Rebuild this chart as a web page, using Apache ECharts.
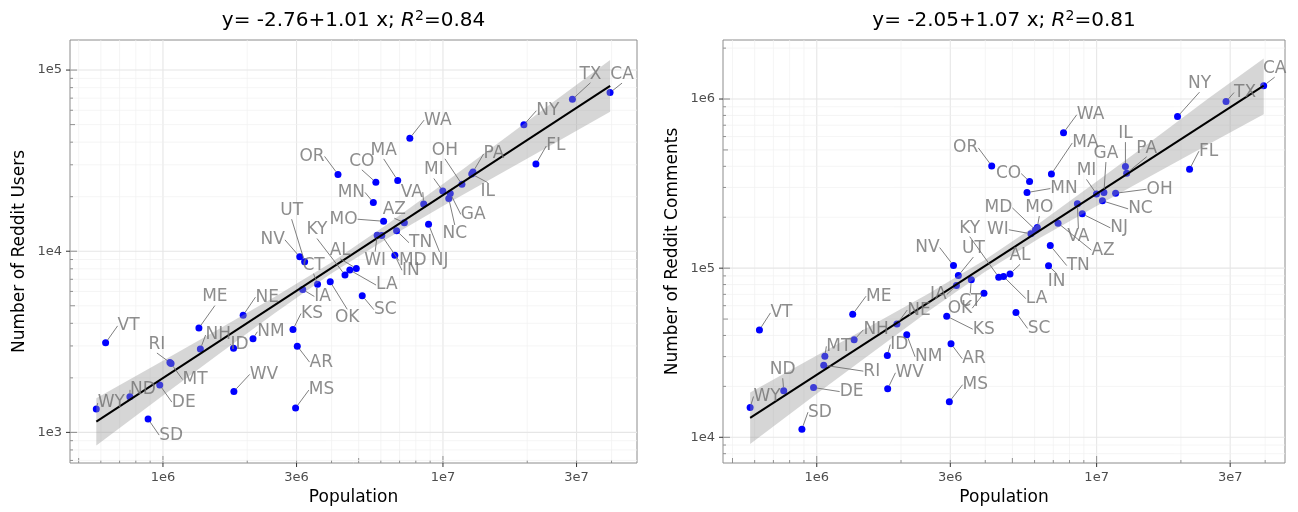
<!DOCTYPE html>
<html>
<head>
<meta charset="utf-8">
<script src="https://cdn.jsdelivr.net/npm/echarts@6/dist/echarts.min.js"></script>
<style>
  html, body { margin: 0; padding: 0; background: #fff; }
  #chart { width: 1298px; height: 512px; }
</style>
</head>
<body>
<div id="chart"></div>
<script>
// state data (48 contiguous states)
const states = ['WY', 'VT', 'ND', 'SD', 'DE', 'RI', 'MT', 'ME', 'NH', 'WV', 'ID', 'NE', 'NM', 'KS', 'MS', 'AR',
  'NV', 'IA', 'UT', 'CT', 'OK', 'OR', 'KY', 'LA', 'AL', 'SC', 'MN', 'CO', 'WI', 'MD', 'MO', 'IN',
  'TN', 'MA', 'AZ', 'WA', 'VA', 'NJ', 'MI', 'NC', 'GA', 'OH', 'IL', 'PA', 'NY', 'FL', 'TX', 'CA'];
// population in millions
const populationM = [0.578, 0.624, 0.762, 0.885, 0.974, 1.059, 1.069, 1.344, 1.360, 1.792, 1.787, 1.934, 2.097, 2.913, 2.976, 3.018,
  3.080, 3.155, 3.206, 3.565, 3.957, 4.218, 4.468, 4.649, 4.903, 5.149, 5.640, 5.759, 5.822, 6.046, 6.137, 6.732,
  6.829, 6.893, 7.279, 7.615, 8.536, 8.882, 9.987, 10.488, 10.617, 11.689, 12.672, 12.802, 19.454, 21.478, 28.996, 39.512];
const redditUsers = [1345, 3120, 1571, 1184, 1824, 2430, 2400, 3767, 2884, 1684, 2911, 4435, 3288, 3698, 1362, 2993,
  9310, 6150, 8750, 6580, 6780, 26550, 7390, 7870, 8040, 5680, 18600, 24000, 12270, 12200, 14640, 9500,
  12970, 24600, 14360, 42100, 18200, 14070, 21500, 19550, 20850, 23400, 26650, 27400, 49900, 30300, 69000, 75100];
const redditComments = [15000, 43150, 18840, 11170, 19680, 26700, 30100, 53400, 37700, 19350, 30430, 46700, 40350, 52000, 16230, 35700,
  103600, 78900, 90400, 85300, 71100, 402400, 88500, 89200, 92500, 54700, 279900, 325000, 159700, 168400, 173800, 103200,
  136000, 360500, 184500, 632000, 240000, 209400, 274800, 250000, 279900, 277300, 398500, 364000, 787000, 384600, 966000, 1199000];

// fitted line and confidence band, log10 units
const fitX = [5.762, 7.597];
const usersFit = [3.059, 4.913];
const commentsFit = [4.115, 6.079];
const bandX = [5.762, 6.0, 6.2, 6.4, 6.6, 6.8, 7.0, 7.2, 7.4, 7.597];
const usersBandHi = [3.188, 3.396, 3.571, 3.749, 3.936, 4.147, 4.371, 4.600, 4.830, 5.056];
const usersBandLo = [2.928, 3.204, 3.433, 3.659, 3.876, 4.069, 4.249, 4.424, 4.598, 4.770];
const commentsBandHi = [4.265, 4.483, 4.665, 4.850, 5.048, 5.271, 5.512, 5.757, 6.004, 6.240];
const commentsBandLo = [3.961, 4.257, 4.503, 4.746, 4.977, 5.181, 5.368, 5.551, 5.733, 5.910];

// axis breaks
const popBreaks = [1e6, 3e6, 1e7, 3e7];
const popBreakLabels = ['1e6', '3e6', '1e7', '3e7'];
const usersBreaks = [1e3, 1e4, 1e5];
const usersBreakLabels = ['1e3', '1e4', '1e5'];
const commentsBreaks = [1e4, 1e5, 1e6];
const commentsBreakLabels = ['1e4', '1e5', '1e6'];

const titleEq = ['y= -2.76+1.01 x; ', 'y= -2.05+1.07 x; '];
const titleR2 = ['0.84', '0.81'];

// label nudges (px) as placed by the repel layout
const usersLabelShift = {
  TX: [18, -25], CA: [12, -18], NY: [24, -14], FL: [20, -18], WA: [28, -18], OR: [-26, -18], CO: [-14, -21],
  MA: [-14, -30], MN: [-22, -10], VA: [-12, -12], OH: [-17, -34], MI: [-9, -21], PA: [21, -18], IL: [16, 17],
  GA: [23, 21], NC: [6, 35], AZ: [-10, -13], MO: [-40, -2], TN: [24, 12], NJ: [11, 36], MD: [31, 25],
  IN: [16, 15], WI: [-2, 25], KY: [-28, -45], UT: [-13, -51], NV: [-27, -17], AL: [-16, -18], CT: [-4, -19],
  LA: [37, 15], IA: [20, 7], KS: [19, -16], OK: [17, 36], SC: [23, 14], ME: [16, -31], NE: [24, -18],
  NH: [18, -14], ID: [6, -4], NM: [18, -7], AR: [24, 16], MS: [26, -18], WV: [30, -17], VT: [23, -17],
  RI: [-13, -18], MT: [24, 16], DE: [24, 17], ND: [13, -7], WY: [15, -6], SD: [23, 16]
};
const commentsLabelShift = {
  CA: [11, -17], TX: [19, -9], NY: [22, -33], FL: [19, -18], WA: [27, -18], MA: [34, -31], OR: [-26, -18],
  CO: [-21, -8], MN: [37, -4], IL: [0, -33], PA: [20, -25], GA: [2, -39], MI: [-10, -23], OH: [44, -4],
  NC: [38, 8], NJ: [37, 14], VA: [1, 33], AZ: [45, 27], MO: [2, -20], MD: [-37, -22], WI: [-33, -4],
  KY: [-29, -49], TN: [28, 20], IN: [8, 16], AL: [10, -18], LA: [33, 22], SC: [23, 16], UT: [15, -27],
  NV: [-26, -18], IA: [-18, 9], CT: [-1, 22], OK: [-24, 15], KS: [37, 13], NE: [22, -14], NM: [22, 22],
  AR: [23, 15], MS: [26, -17], ME: [26, -18], NH: [22, -10], ID: [12, -11], WV: [22, -16], MT: [14, -10],
  RI: [48, 6], DE: [38, 4], ND: [-1, -21], WY: [17, -11], VT: [22, -17], SD: [18, -17]
};

const FONT = 'DejaVu Sans';
const LABEL_GREY = '#707070';

const panels = [
  {
    grid: { left: 70, top: 40, width: 567, height: 423 },
    xMin: 5.668, xMax: 7.693, yMin: 2.831, yMax: 5.166,
    yName: 'Number of Reddit Users', yValues: redditUsers,
    yBreaks: usersBreaks, yBreakLabels: usersBreakLabels,
    fit: usersFit, bandHi: usersBandHi, bandLo: usersBandLo, shift: usersLabelShift
  },
  {
    grid: { left: 723, top: 40, width: 562, height: 423 },
    xMin: 5.665, xMax: 7.673, yMin: 3.848, yMax: 6.349,
    yName: 'Number of Reddit Comments', yValues: redditComments,
    yBreaks: commentsBreaks, yBreakLabels: commentsBreakLabels,
    fit: commentsFit, bandHi: commentsBandHi, bandLo: commentsBandLo, shift: commentsLabelShift
  }
];

function logOf(arr) {
  return arr.map((v) => Math.log10(v));
}

function labelFor(breaksLog, labels) {
  return function (v) {
    const i = breaksLog.findIndex((b) => Math.abs(b - v) < 1e-6);
    return i >= 0 ? labels[i] : '';
  };
}

// grid lines + log ticks at k * 10^n
function logLines(lo, hi, breaks) {
  const out = [];
  for (let d = Math.floor(lo); d <= Math.ceil(hi); d++) {
    for (let k = 1; k <= 9; k++) {
      const v = Math.log10(k * Math.pow(10, d));
      if (v < lo || v > hi) continue;
      const major = breaks.some((b) => Math.abs(Math.log10(b) - v) < 1e-9) ? 1 : 0;
      out.push([v, major, k === 1 ? 2 : k === 5 ? 1 : 0]);
    }
  }
  return out;
}

const TICK_LEN = [3, 5, 7];

function gridLineStyle(major) {
  return major
    ? { stroke: '#e6e6e6', lineWidth: 1.1 }
    : { stroke: '#f1f1f1', lineWidth: 0.7 };
}

const grids = [], xAxes = [], yAxes = [], series = [], titles = [];

panels.forEach((p, i) => {
  const xBreaksLog = logOf(popBreaks);
  const yBreaksLog = logOf(p.yBreaks);
  grids.push(Object.assign({ show: true, borderColor: '#8c8c8c', borderWidth: 1, containLabel: false }, p.grid));

  xAxes.push({
    gridIndex: i, type: 'value', min: p.xMin, max: p.xMax,
    axisLine: { show: false }, splitLine: { show: false }, axisTick: { show: false },
    axisLabel: { customValues: xBreaksLog, formatter: labelFor(xBreaksLog, popBreakLabels),
      margin: 8, color: '#4d4d4d', fontSize: 13, fontFamily: FONT },
    name: 'Population', nameLocation: 'middle', nameGap: 26,
    nameTextStyle: { fontSize: 17, color: '#000', fontFamily: FONT }
  });
  yAxes.push({
    gridIndex: i, type: 'value', min: p.yMin, max: p.yMax,
    axisLine: { show: false }, splitLine: { show: false }, axisTick: { show: false },
    axisLabel: { customValues: yBreaksLog, formatter: labelFor(yBreaksLog, p.yBreakLabels),
      margin: 8, color: '#4d4d4d', fontSize: 13, fontFamily: FONT },
    name: p.yName, nameLocation: 'middle', nameGap: 42,
    nameTextStyle: { fontSize: 17, color: '#000', fontFamily: FONT }
  });

  // vertical grid lines, inner log ticks, outer break ticks
  series.push({
    type: 'custom', xAxisIndex: i, yAxisIndex: i, silent: true, z: 0,
    data: logLines(p.xMin, p.xMax, popBreaks),
    renderItem: function (params, api) {
      const cs = params.coordSys;
      const x = api.coord([api.value(0), p.yMin])[0];
      const bottom = cs.y + cs.height;
      const major = api.value(1);
      const kids = [
        { type: 'line', shape: { x1: x, y1: cs.y, x2: x, y2: bottom }, style: gridLineStyle(major) },
        { type: 'line', shape: { x1: x, y1: bottom, x2: x, y2: bottom - TICK_LEN[api.value(2)] },
          style: { stroke: '#666', lineWidth: 0.7 } }
      ];
      if (major) {
        kids.push({ type: 'line', shape: { x1: x, y1: bottom, x2: x, y2: bottom + 4 },
          style: { stroke: '#333', lineWidth: 1 } });
      }
      return { type: 'group', children: kids };
    }
  });
  // horizontal grid lines, inner log ticks, outer break ticks
  series.push({
    type: 'custom', xAxisIndex: i, yAxisIndex: i, silent: true, z: 0,
    data: logLines(p.yMin, p.yMax, p.yBreaks).map((d) => [p.xMin, d[0], d[1], d[2]]),
    renderItem: function (params, api) {
      const cs = params.coordSys;
      const y = api.coord([p.xMin, api.value(1)])[1];
      const major = api.value(2);
      const kids = [
        { type: 'line', shape: { x1: cs.x, y1: y, x2: cs.x + cs.width, y2: y }, style: gridLineStyle(major) },
        { type: 'line', shape: { x1: cs.x, y1: y, x2: cs.x + TICK_LEN[api.value(3)], y2: y },
          style: { stroke: '#666', lineWidth: 0.7 } }
      ];
      if (major) {
        kids.push({ type: 'line', shape: { x1: cs.x - 4, y1: y, x2: cs.x, y2: y },
          style: { stroke: '#333', lineWidth: 1 } });
      }
      return { type: 'group', children: kids };
    }
  });

  const pts = populationM.map((v, j) => [Math.log10(v * 1e6), Math.log10(p.yValues[j])]);

  series.push({
    type: 'scatter', xAxisIndex: i, yAxisIndex: i, z: 2, silent: true,
    data: pts, symbolSize: 7, itemStyle: { color: '#0000ff', opacity: 1 }
  });

  // confidence band drawn over the points
  series.push({
    type: 'custom', xAxisIndex: i, yAxisIndex: i, silent: true, z: 3,
    data: [[bandX[0], p.bandLo[0]]],
    renderItem: function (params, api) {
      const poly = [];
      bandX.forEach((x, j) => poly.push(api.coord([x, p.bandHi[j]])));
      for (let j = bandX.length - 1; j >= 0; j--) poly.push(api.coord([bandX[j], p.bandLo[j]]));
      return { type: 'polygon', shape: { points: poly }, style: { fill: 'rgba(153,153,153,0.4)' } };
    }
  });

  series.push({
    type: 'line', xAxisIndex: i, yAxisIndex: i, z: 4, silent: true,
    data: fitX.map((x, j) => [x, p.fit[j]]),
    symbol: 'none', lineStyle: { color: '#000', width: 2 }
  });

  // state labels with guide segments
  series.push({
    type: 'scatter', xAxisIndex: i, yAxisIndex: i, z: 5, silent: true,
    data: pts.map((v, j) => ({ value: v, name: states[j] })),
    symbolSize: 7, itemStyle: { color: 'rgba(0,0,0,0)' },
    label: { show: true, position: 'inside', formatter: '{b}', fontSize: 17, fontFamily: FONT, color: LABEL_GREY },
    labelLayout: function (prm) {
      const s = p.shift[states[prm.dataIndex]] || [0, 0];
      return { dx: s[0], dy: s[1] };
    },
    labelLine: { show: true, lineStyle: { color: LABEL_GREY, width: 0.9 } }
  });

  titles.push({
    text: '{n|' + titleEq[i] + '}{r|R}{s|2}{n|=' + titleR2[i] + '}',
    left: p.grid.left + p.grid.width / 2, top: 9, textAlign: 'center', padding: 0,
    textStyle: {
      fontWeight: 'normal',
      rich: {
        n: { fontSize: 20, fontFamily: FONT, fontWeight: 'normal', color: '#000', lineHeight: 24 },
        r: { fontSize: 20, fontFamily: FONT, fontWeight: 'normal', fontStyle: 'italic', color: '#000', lineHeight: 24 },
        s: { fontSize: 14, fontFamily: FONT, fontWeight: 'normal', color: '#000', lineHeight: 14, verticalAlign: 'top' }
      }
    }
  });
});

const chart = echarts.init(document.getElementById('chart'), null, { renderer: 'canvas' });
chart.setOption({
  backgroundColor: '#fff',
  animation: false,
  title: titles,
  grid: grids,
  xAxis: xAxes,
  yAxis: yAxes,
  series: series
});
</script>
</body>
</html>
